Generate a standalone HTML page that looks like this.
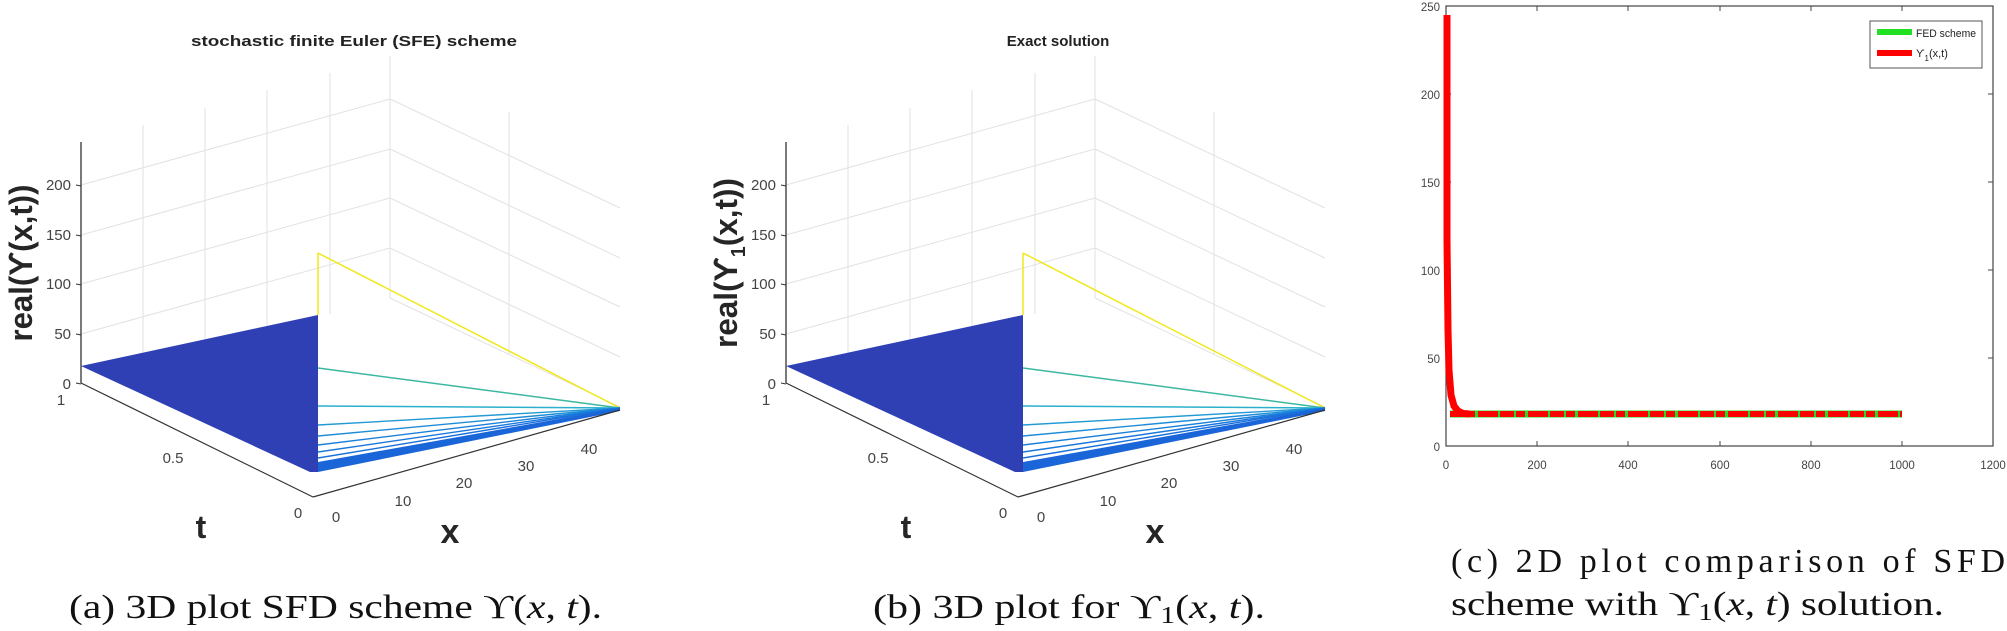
<!DOCTYPE html>
<html><head><meta charset="utf-8"><style>
html,body{margin:0;padding:0;background:#fff;}
svg{display:block;}
text{font-family:"Liberation Sans",sans-serif;}
.cap{font-family:"Liberation Serif","DejaVu Serif",serif;font-size:34px;fill:#111;}
.tk{font-size:15px;fill:#444;}
.g{stroke:#e2e2e2;stroke-width:1;fill:none;}
</style></head><body>
<svg width="2007" height="631" viewBox="0 0 2007 631" xmlns="http://www.w3.org/2000/svg">
<defs>
<g id="p3d">
  <line class="g" x1="81" y1="185" x2="390" y2="99"/>
  <line class="g" x1="81" y1="235" x2="390" y2="149"/>
  <line class="g" x1="81" y1="284" x2="390" y2="198"/>
  <line class="g" x1="81" y1="334" x2="390" y2="248"/>
  <line class="g" x1="143" y1="125" x2="143" y2="366"/>
  <line class="g" x1="205" y1="108" x2="205" y2="349"/>
  <line class="g" x1="267" y1="90" x2="267" y2="331"/>
  <line class="g" x1="330" y1="73" x2="330" y2="314"/>
  <line class="g" x1="390" y1="56" x2="390" y2="298"/>
  <line class="g" x1="390" y1="99" x2="620" y2="208"/>
  <line class="g" x1="390" y1="149" x2="620" y2="258"/>
  <line class="g" x1="390" y1="198" x2="620" y2="307"/>
  <line class="g" x1="390" y1="248" x2="620" y2="357"/>
  <line class="g" x1="509" y1="112" x2="509" y2="354"/>
  <line class="g" x1="390" y1="298" x2="620" y2="407"/>
  <line x1="81" y1="142" x2="81" y2="383" stroke="#333" stroke-width="1.3"/>
  <g stroke="#333" stroke-width="1">
    <line x1="76" y1="185" x2="81" y2="186"/><line x1="76" y1="235" x2="81" y2="236"/>
    <line x1="76" y1="284" x2="81" y2="285"/><line x1="76" y1="334" x2="81" y2="335"/>
    <line x1="76" y1="383" x2="81" y2="384"/>
  </g>
  <g class="tk" text-anchor="end">
    <text x="71" y="190">200</text><text x="71" y="240">150</text>
    <text x="71" y="289">100</text><text x="71" y="339">50</text><text x="71" y="389">0</text>
  </g>
  <polygon points="81,366 318,315 318,472 310,472" fill="#2f40b5"/>
  <line x1="318" y1="253" x2="318" y2="315" stroke="#f0e81a" stroke-width="1.5"/>
  <line x1="318" y1="253" x2="620" y2="408" stroke="#f0e81a" stroke-width="1.5"/>
  <line x1="318" y1="368" x2="620" y2="408" stroke="#3cb8a0" stroke-width="1.5"/>
  <line x1="318" y1="406" x2="620" y2="408" stroke="#2ab0cc" stroke-width="1.5"/>
  <g stroke-width="1.4">
    <line x1="318" y1="425" x2="620" y2="408" stroke="#229ad6"/>
    <line x1="318" y1="436" x2="620" y2="408" stroke="#1f8cd8"/>
    <line x1="318" y1="445" x2="620" y2="408" stroke="#1c80da"/>
    <line x1="318" y1="452" x2="620" y2="408" stroke="#1a78dc"/>
    <line x1="318" y1="458" x2="620" y2="408" stroke="#1870dc"/>
  </g>
  <polygon points="318,462 620,408 620,411 318,472" fill="#1a66d8"/>
  <line x1="81" y1="383" x2="313" y2="497" stroke="#333" stroke-width="1.2"/>
  <line x1="313" y1="497" x2="620" y2="410" stroke="#333" stroke-width="1.2"/>
  <g class="tk" text-anchor="middle">
    <text x="61" y="405">1</text><text x="173" y="463">0.5</text><text x="298" y="518">0</text>
    <text x="336" y="522">0</text><text x="403" y="506">10</text><text x="464" y="488">20</text>
    <text x="526" y="471">30</text><text x="589" y="454">40</text>
  </g>
  <text x="201" y="538" text-anchor="middle" font-size="32" font-weight="bold" fill="#262626">t</text>
  <text x="450" y="543" text-anchor="middle" font-size="34" font-weight="bold" fill="#262626">x</text>
</g>
</defs>

<use href="#p3d"/>
<text x="191" y="46" font-size="15" font-weight="bold" fill="#222" textLength="326" lengthAdjust="spacingAndGlyphs">stochastic finite Euler (SFE) scheme</text>
<text transform="translate(32,263) rotate(-90)" text-anchor="middle" font-size="32" font-weight="bold" fill="#262626" textLength="157" lengthAdjust="spacingAndGlyphs">real(ϒ(x,t))</text>
<text class="cap" x="69" y="618" textLength="533" lengthAdjust="spacingAndGlyphs">(a) 3D plot SFD scheme ϒ(<tspan font-style="italic">x</tspan>, <tspan font-style="italic">t</tspan>).</text>

<g transform="translate(705,0)">
<use href="#p3d"/>
<text x="353" y="46" text-anchor="middle" font-size="15" font-weight="bold" fill="#222">Exact solution</text>
<text transform="translate(32,263) rotate(-90)" text-anchor="middle" font-size="32" font-weight="bold" fill="#262626" textLength="170" lengthAdjust="spacingAndGlyphs">real(ϒ<tspan font-size="20" dy="8">1</tspan><tspan dy="-8">(x,t))</tspan></text>
</g>
<text class="cap" x="873" y="618" textLength="392" lengthAdjust="spacingAndGlyphs">(b) 3D plot for ϒ<tspan font-size="24" dy="5">1</tspan><tspan dy="-5">(</tspan><tspan font-style="italic">x</tspan>, <tspan font-style="italic">t</tspan>).</text>

<g>
  <rect x="1446" y="6" width="547" height="440" fill="none" stroke="#444" stroke-width="1.2"/>
  <g stroke="#444" stroke-width="1">
    <line x1="1537" y1="446" x2="1537" y2="441"/><line x1="1628" y1="446" x2="1628" y2="441"/>
    <line x1="1720" y1="446" x2="1720" y2="441"/><line x1="1811" y1="446" x2="1811" y2="441"/>
    <line x1="1902" y1="446" x2="1902" y2="441"/>
    <line x1="1537" y1="6" x2="1537" y2="11"/><line x1="1628" y1="6" x2="1628" y2="11"/>
    <line x1="1720" y1="6" x2="1720" y2="11"/><line x1="1811" y1="6" x2="1811" y2="11"/>
    <line x1="1902" y1="6" x2="1902" y2="11"/>
    <line x1="1446" y1="94" x2="1451" y2="94"/><line x1="1446" y1="182" x2="1451" y2="182"/>
    <line x1="1446" y1="270" x2="1451" y2="270"/><line x1="1446" y1="358" x2="1451" y2="358"/>
    <line x1="1993" y1="94" x2="1988" y2="94"/><line x1="1993" y1="182" x2="1988" y2="182"/>
    <line x1="1993" y1="270" x2="1988" y2="270"/><line x1="1993" y1="358" x2="1988" y2="358"/>
  </g>
  <g font-size="11.5" fill="#444" text-anchor="end">
    <text x="1440" y="11">250</text><text x="1440" y="99">200</text><text x="1440" y="187">150</text>
    <text x="1440" y="275">100</text><text x="1440" y="363">50</text><text x="1440" y="451">0</text>
  </g>
  <g font-size="11.5" fill="#444" text-anchor="middle">
    <text x="1446" y="469">0</text><text x="1537" y="469">200</text><text x="1628" y="469">400</text>
    <text x="1720" y="469">600</text><text x="1811" y="469">800</text><text x="1902" y="469">1000</text>
    <text x="1993" y="469">1200</text>
  </g>
  <line x1="1450" y1="414" x2="1902" y2="414" stroke="#22dd22" stroke-width="7"/>
  <line x1="1450" y1="414" x2="1902" y2="414" stroke="#ff0000" stroke-width="6" stroke-dasharray="14 2 9 3 20 2"/>
  <path d="M1447,15 L1447,240 L1448,330 L1449,370 L1451,395 L1454,406 L1458,411 L1463,413.5 L1470,414" fill="none" stroke="#ff0000" stroke-width="7"/>
  <rect x="1870" y="21" width="112" height="47" fill="#fff" stroke="#555" stroke-width="1"/>
  <line x1="1877" y1="32" x2="1912" y2="32" stroke="#22e022" stroke-width="6"/>
  <line x1="1877" y1="53" x2="1912" y2="53" stroke="#ff0000" stroke-width="6"/>
  <text x="1916" y="37" font-size="11" fill="#222" textLength="60" lengthAdjust="spacingAndGlyphs">FED scheme</text>
  <text x="1916" y="57" font-size="11" fill="#222">ϒ<tspan font-size="8" dy="4">1</tspan><tspan dy="-4">(x,t)</tspan></text>
</g>
<text class="cap" x="1451" y="572" textLength="554" lengthAdjust="spacing">(c) 2D plot comparison of SFD</text>
<text class="cap" x="1451" y="615" textLength="493" lengthAdjust="spacingAndGlyphs">scheme with ϒ<tspan font-size="24" dy="5">1</tspan><tspan dy="-5">(</tspan><tspan font-style="italic">x</tspan>, <tspan font-style="italic">t</tspan>) solution.</text>
</svg>
</body></html>
